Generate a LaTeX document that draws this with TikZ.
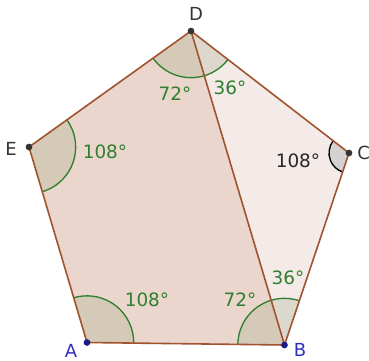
\documentclass[tikz,border=0pt]{standalone}
\usepackage{fontspec}
\setmainfont{DejaVu Sans}
\usetikzlibrary{angles}
\definecolor{quadfill}{HTML}{EAD6CD}
\definecolor{trifill}{HTML}{F4EAE7}
\definecolor{edgecol}{HTML}{A0532F}
\definecolor{anggreen}{HTML}{2F7F2F}
\definecolor{secA}{HTML}{D5CAB8}
\definecolor{secB}{HTML}{DDD8CD}
\definecolor{secC}{HTML}{D6D2D1}
\definecolor{ptblue}{HTML}{1A1A8C}
\definecolor{lblblue}{HTML}{3030C0}
\definecolor{ptgray}{HTML}{333333}
\begin{document}
\begin{tikzpicture}[x=0.75pt,y=-0.75pt,
  edge/.style={draw=edgecol,line width=1.2pt},
  sector/.style={draw=anggreen,line width=1pt,angle radius=35pt},
  anglbl/.style={text=anggreen,font=\fontsize{13.8pt}{16pt}\selectfont,inner sep=0pt},
  ptlbl/.style={font=\fontsize{13.5pt}{16pt}\selectfont,inner sep=0pt},
  dot/.style={circle,inner sep=0pt,minimum size=5pt}]
\useasboundingbox (0,0) rectangle (369,361);
\fill[white] (0,0) rectangle (369,361);
\coordinate (A) at (87,342.5);
\coordinate (B) at (284.5,345);
\coordinate (C) at (349,153);
\coordinate (D) at (191,31);
\coordinate (E) at (29,147);
% fills
\fill[quadfill] (A) -- (B) -- (D) -- (E) -- cycle;
\fill[trifill] (B) -- (C) -- (D) -- cycle;
% sectors
\pic[sector,fill=secA] {angle=B--A--E};
\pic[sector,fill=secA] {angle=A--E--D};
\pic[sector,fill=secA] {angle=E--D--B};
\pic[sector,fill=secB] {angle=B--D--C};
\pic[sector,fill=secA] {angle=D--B--A};
\pic[sector,fill=secB] {angle=C--B--D};
\pic[draw=black,line width=1pt,fill=secC,angle radius=15pt] {angle=D--C--B};
% edges
\draw[edge] (A) -- (B) -- (C) -- (D) -- (E) -- cycle;
\draw[edge] (B) -- (D);
% points
\node[dot,fill=ptblue] (pA) at (A) {};
\node[dot,fill=ptblue] (pB) at (B) {};
\node[dot,fill=ptgray] (pC) at (C) {};
\node[dot,fill=ptgray] (pD) at (D) {};
\node[dot,fill=ptgray] (pE) at (E) {};
% point labels
\node[ptlbl,text=lblblue] (lA) at (71,350.5) {A};
\node[ptlbl,text=lblblue] (lB) at (300,349.5) {B};
\node[ptlbl,text=ptgray,anchor=west] (lC) at (357,153) {C};
\node[ptlbl,text=ptgray] (lD) at (196,14) {D};
\node[ptlbl,text=ptgray] (lE) at (11,149) {E};
% angle labels
\node[anglbl] (tA) at (147,300) {108°};
\node[anglbl] (tE) at (105,152) {108°};
\node[anglbl] (tD1) at (175,94) {72°};
\node[anglbl] (tD2) at (230,88) {36°};
\node[anglbl] (tB1) at (240,300) {72°};
\node[anglbl] (tB2) at (288,278) {36°};
\node[anglbl,text=black!85] (tC) at (298,161) {108°};
\end{tikzpicture}
\end{document}
